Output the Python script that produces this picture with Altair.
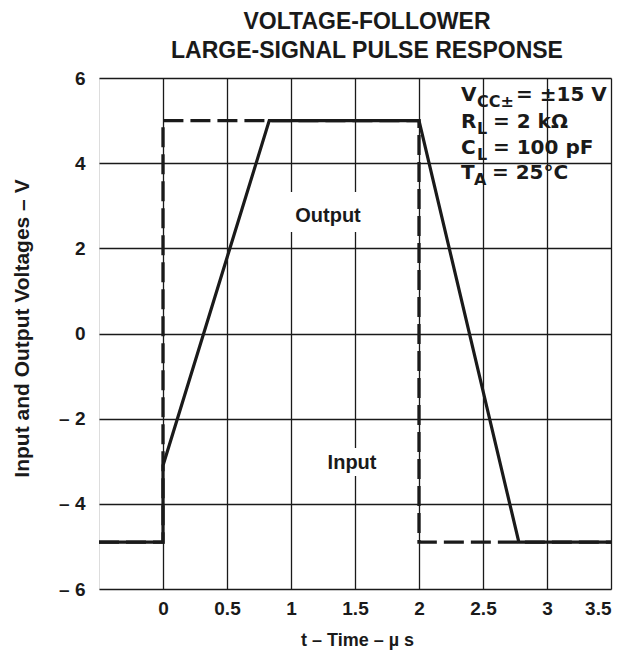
import altair as alt
import pandas as pd

# ---- data ----
input_t = [-0.5, 0.0, 0.0, 2.0, 2.0, 3.5]
input_v = [-4.9, -4.9, 5.0, 5.0, -4.9, -4.9]

output_t = [-0.5, 0.0, 0.0, 0.83, 2.0, 2.78, 3.5]
output_v = [-4.9, -4.9, -3.1, 5.0, 5.0, -4.9, -4.9]

x_ticks = [0, 0.5, 1, 1.5, 2, 2.5, 3, 3.5]
x_tick_labels = ["0", "0.5", "1", "1.5", "2", "2.5", "3", "3.5"]
y_ticks = [-6, -4, -2, 0, 2, 4, 6]
y_tick_labels = ["– 6", "– 4", "– 2", "0", "2", "4", "6"]

title_lines = ["VOLTAGE-FOLLOWER", "LARGE-SIGNAL PULSE RESPONSE"]
x_title = "t – Time – µ s"
y_title = "Input and Output Voltages – V"

# condition block: text pieces (main text + subscripts)
cond_text = ["V", "CC±", "= ±15 V",
             "R", "L", "= 2 kΩ",
             "C", "L", "= 100 pF",
             "T", "A", "= 25°C"]
cond_sub = [0, 1, 0,
            0, 1, 0,
            0, 1, 0,
            0, 1, 0]
cond_line = [0, 0, 0,
             1, 1, 1,
             2, 2, 2,
             3, 3, 3]
# horizontal placement of each piece, in time units (µs)
cond_x = [2.328, 2.453, 2.758,
          2.328, 2.453, 2.578,
          2.328, 2.453, 2.578,
          2.328, 2.430, 2.570]
# baseline of each condition line, in volts
cond_line_y = [5.460, 4.826, 4.216, 3.628]
SUB_DROP = 0.14  # volts

# curve labels
label_text = ["Output", "Input"]
label_x = [1.289, 1.477]
label_y = [2.62, -3.18]
# white boxes behind the curve labels
box_x = [0.953, 1.242]
box_x2 = [1.617, 1.711]
box_y = [3.323, -2.689]
box_y2 = [2.384, -3.347]

FONT = "Liberation Sans"
COND_FONT = "DejaVu Sans"
INK = "#1a1a1a"


def label_expr(values, labels):
    expr = "''"
    for v, l in reversed(list(zip(values, labels))):
        expr = f"abs(datum.value - ({v})) < 1e-6 ? '{l}' : ({expr})"
    return expr


df_in = pd.DataFrame({"t": input_t, "v": input_v, "i": range(len(input_t))})
df_out = pd.DataFrame({"t": output_t, "v": output_v, "i": range(len(output_t))})
df_cond = pd.DataFrame({
    "text": cond_text,
    "x": cond_x,
    "y": [cond_line_y[l] - (SUB_DROP if s else 0) for l, s in zip(cond_line, cond_sub)],
    "size": [16 if s else 20 for s in cond_sub],
})
df_lab = pd.DataFrame({"text": label_text, "x": label_x, "y": label_y})
df_box = pd.DataFrame({"x": box_x, "x2": box_x2, "y": box_y, "y2": box_y2})

xscale = alt.Scale(domain=[-0.5, 3.5], nice=False, zero=False)
yscale = alt.Scale(domain=[-6, 6], nice=False, zero=False)

xaxis = alt.Axis(
    values=x_ticks, labelExpr=label_expr(x_ticks, x_tick_labels),
    title=x_title, grid=True, gridColor=INK, gridWidth=1.3, gridOpacity=1,
    ticks=False, tickSize=0, domain=False, labelPadding=10,
    labelFont=FONT, labelFontSize=19, labelFontWeight="bold", labelColor=INK,
    titleFont=FONT, titleFontSize=18, titleFontWeight="bold", titleColor=INK,
    titleBaseline="alphabetic", titleY=56, titleX=258,
)
yaxis = alt.Axis(
    values=y_ticks, labelExpr=label_expr(y_ticks, y_tick_labels),
    title=y_title, grid=True, gridColor=INK, gridWidth=1.3, gridOpacity=1,
    ticks=False, tickSize=0, domain=False, labelPadding=14,
    labelFont=FONT, labelFontSize=19, labelFontWeight="bold", labelColor=INK,
    titleFont=FONT, titleFontSize=21, titleFontWeight="bold", titleColor=INK,
    titleBaseline="alphabetic", titleX=-71, titleY=250, titleAngle=270,
)

base_x = alt.X("t:Q", scale=xscale, axis=xaxis)
base_y = alt.Y("v:Q", scale=yscale, axis=yaxis)

boxes = alt.Chart(df_box).mark_rect(color="white").encode(
    x=alt.X("x:Q", scale=xscale), x2="x2:Q",
    y=alt.Y("y:Q", scale=yscale), y2="y2:Q",
)

line_in = alt.Chart(df_in).mark_line(
    color=INK, strokeWidth=3.3, strokeDash=[20, 7]
).encode(x=base_x, y=base_y, order="i:Q")

line_out = alt.Chart(df_out).mark_line(
    color=INK, strokeWidth=3.2
).encode(x=base_x, y=base_y, order="i:Q")

cond = alt.Chart(df_cond).mark_text(
    align="left", baseline="alphabetic", font=COND_FONT, fontWeight="bold", color=INK
).encode(
    x=alt.X("x:Q", scale=xscale), y=alt.Y("y:Q", scale=yscale),
    text="text:N", size=alt.Size("size:Q", scale=None, legend=None),
)

labels = alt.Chart(df_lab).mark_text(
    align="center", baseline="alphabetic", font=FONT, fontWeight="bold",
    fontSize=20, color=INK
).encode(x=alt.X("x:Q", scale=xscale), y=alt.Y("y:Q", scale=yscale), text="text:N")

chart = alt.layer(boxes, line_in, line_out, cond, labels).properties(
    width=512, height=511,
    title=alt.TitleParams(
        text=title_lines, font=FONT, fontSize=23, fontWeight="bold", color=INK,
        anchor="middle", dx=12, offset=6, lineHeight=29,
    ),
    autosize=alt.AutoSizeParams(type="none"),
    padding={"left": 91, "top": 70, "right": 6, "bottom": 62},
).configure_view(
    stroke=INK, strokeWidth=3
).configure(background="white")

chart.save("out.html", embed_options={"renderer": "svg", "actions": False})
